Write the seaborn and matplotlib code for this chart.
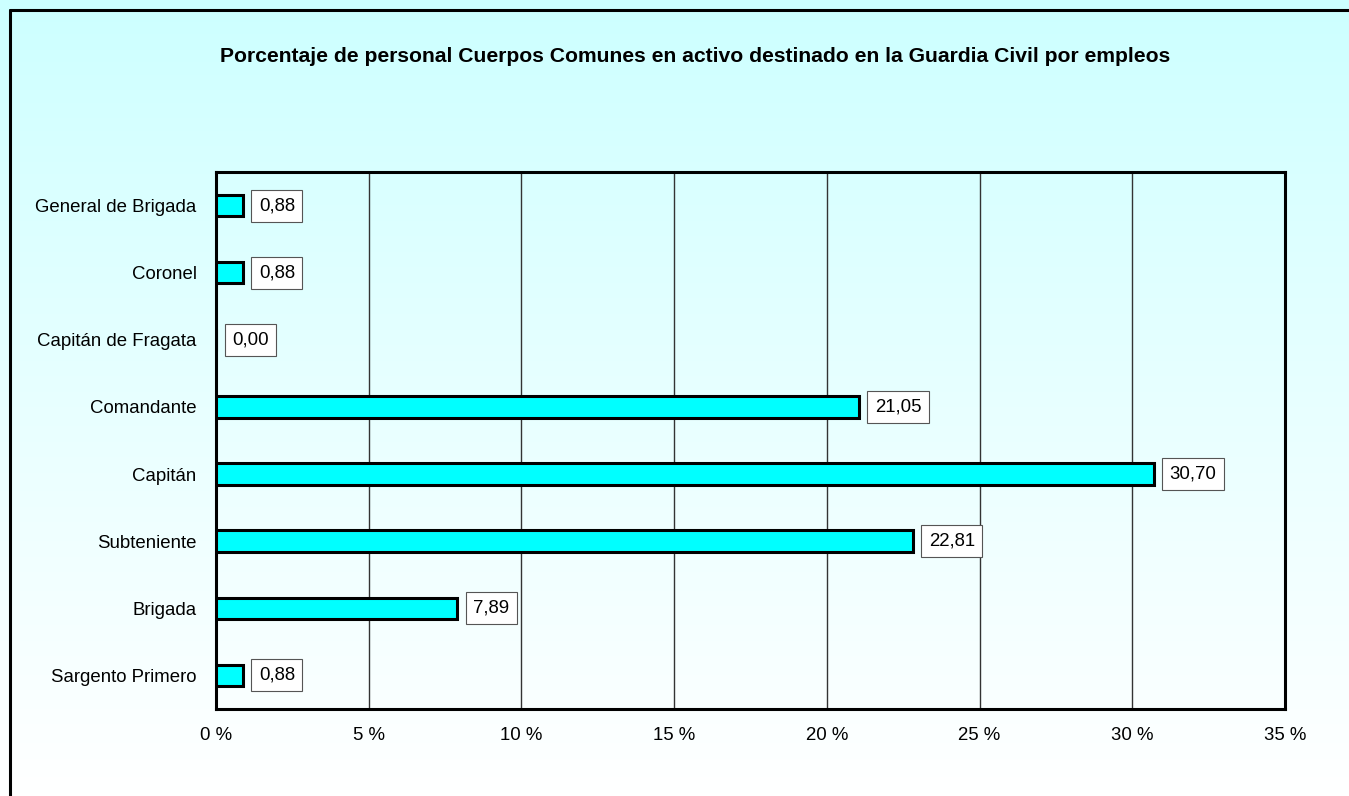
import numpy as np
import pandas as pd
import matplotlib
matplotlib.use("Agg")
import matplotlib.pyplot as plt
import seaborn as sns
from matplotlib.lines import Line2D

# Data
empleos = ["General de Brigada", "Coronel", "Capitán de Fragata", "Comandante",
           "Capitán", "Subteniente", "Brigada", "Sargento Primero"]
porcentajes = [0.88, 0.88, 0.00, 21.05, 30.70, 22.81, 7.89, 0.88]
x_ticks = [0, 5, 10, 15, 20, 25, 30, 35]
x_labels = ["0 %", "5 %", "10 %", "15 %", "20 %", "25 %", "30 %", "35 %"]
titulo = "Porcentaje de personal Cuerpos Comunes en activo destinado en la Guardia Civil por empleos"

df = pd.DataFrame({"empleo": empleos, "pct": porcentajes})

sns.set_style("white")
plt.rcParams["font.family"] = ["Liberation Sans", "DejaVu Sans"]
plt.rcParams["text.color"] = "black"
plt.rcParams["xtick.color"] = "black"
plt.rcParams["ytick.color"] = "black"

fig = plt.figure(figsize=(13.49, 7.96), dpi=100)

# Gradient background (light cyan -> white)
bg = fig.add_axes([0, 0, 1, 1], zorder=-10)
grad = np.linspace(0, 1, 256).reshape(-1, 1)
top = np.array([0.80, 1.0, 1.0])
bottom = np.array([1.0, 1.0, 1.0])
img = top + (bottom - top) * grad[..., None] ** 0.9
bg.imshow(img, aspect="auto", extent=[0, 1, 0, 1])
bg.set_axis_off()

# Border (left and top only visible)
fig.add_artist(Line2D([10 / 1349, 10 / 1349], [0, 1 - 10 / 796], color="black", lw=2.2,
                      transform=fig.transFigure))
fig.add_artist(Line2D([10 / 1349, 1], [1 - 10 / 796, 1 - 10 / 796], color="black", lw=2.2,
                      transform=fig.transFigure))

ax = fig.add_axes([216 / 1349, 1 - 709 / 796, (1285 - 216) / 1349, (709 - 172) / 796])
ax.set_facecolor("none")

sns.barplot(data=df, x="pct", y="empleo", ax=ax, color="#00FFFF", width=0.32,
            edgecolor="black", linewidth=2.2, saturation=1, zorder=3)

ax.set_xlim(0, 35)
ax.set_ylim(7.5, -0.5)
ax.set_xticks(x_ticks)
ax.set_xticklabels(x_labels, fontsize=13.4)
ax.tick_params(axis="x", length=4, width=1, pad=9, color="black")
ax.tick_params(axis="y", length=0, pad=14, labelsize=13.4)
ax.set_xlabel("")
ax.set_ylabel("")
ax.xaxis.grid(True, color="#333333", linewidth=1, zorder=0)
ax.set_axisbelow(True)
for sp in ax.spines.values():
    sp.set_visible(True)
    sp.set_color("black")
    sp.set_linewidth(2.2)

for i, v in enumerate(porcentajes):
    ax.annotate(f"{v:.2f}".replace(".", ","), xy=(v, i), xytext=(11.5, 0),
                textcoords="offset points", ha="left", va="center", fontsize=13.4,
                bbox=dict(boxstyle="square,pad=0.4", fc="white", ec="#555555", lw=0.8),
                zorder=5)

fig.text(695 / 1349, 1 - 57 / 796, titulo, ha="center", va="center",
         fontsize=15.2, fontweight="bold")

fig.savefig("out.png", dpi=100)
